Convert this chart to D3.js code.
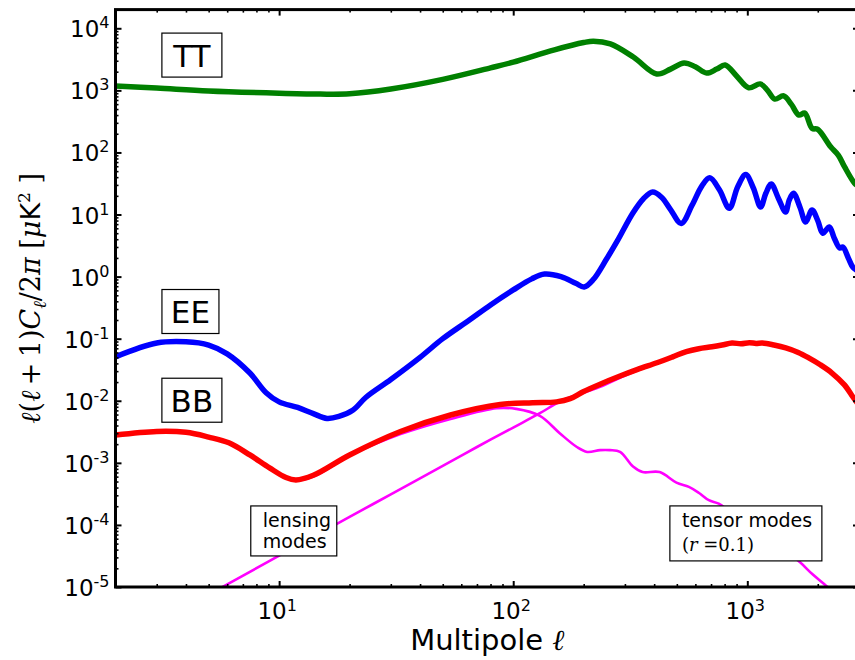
<!DOCTYPE html>
<html>
<head>
<meta charset="utf-8">
<script src="https://cdn.jsdelivr.net/npm/d3@7"></script>
<style>
body { margin: 0; background: #fff; }
svg { display: block; font-family: "DejaVu Sans", sans-serif; }
</style>
</head>
<body>
<svg id="chart"></svg>
<script>
// multipole values and band powers (uK^2)
const ttEll = [2, 3, 5, 10, 15, 20, 30, 50, 80, 100, 150, 200, 220, 260, 326, 410, 470, 537, 600, 670, 740, 804, 900, 1014, 1135, 1220, 1310, 1430, 1540, 1660, 1760, 1890, 2000, 2270, 2450, 2600, 2870, 3000];
const ttVal = [1175, 1090, 980, 900, 870, 880, 1050, 1500, 2300, 2850, 4500, 5900, 6200, 5600, 3440, 1840, 2200, 2770, 2400, 1900, 2200, 2570, 1700, 1100, 1270, 1000, 725, 815, 600, 400, 430, 245, 235, 123, 90, 59, 32, 28];

const eeEll = [2, 3, 4, 5, 6, 7.5, 8.8, 10, 12, 14, 16, 18, 20.7, 23.5, 30, 40, 50, 65, 80, 100, 120, 136, 160, 185, 201, 220, 250, 280, 324, 360, 394, 430, 470, 522, 580, 640, 691, 760, 838, 910, 985, 1060, 1140, 1200, 1265, 1360, 1457, 1510, 1575, 1680, 1775, 1890, 2000, 2100, 2240, 2350, 2480, 2560, 2700, 2830, 3000];
const eeVal = [0.051, 0.085, 0.089, 0.079, 0.057, 0.028, 0.0135, 0.0096, 0.0078, 0.0062, 0.0052, 0.0056, 0.0071, 0.0114, 0.022, 0.05, 0.1, 0.2, 0.35, 0.61, 0.92, 1.1, 1.0, 0.78, 0.68, 0.9, 1.9, 3.9, 10.5, 18, 23, 19, 12, 7.2, 14, 29, 39, 25, 12.6, 28, 44, 27, 13.2, 22, 31, 18, 11, 17, 22, 13, 7.6, 11.8, 8, 5, 6.3, 4.2, 2.9, 3.0, 2.0, 1.4, 1.2];

const bbEll = [2, 3, 4, 5, 6.1, 7.5, 9.1, 10.7, 11.8, 14, 20, 33, 54, 88, 121, 153, 175, 199, 235, 286, 340, 411, 480, 549, 620, 706, 780, 860, 940, 1020, 1090, 1160, 1300, 1460, 1650, 1830, 2050, 2300, 2600, 2840, 3000];
const bbVal = [0.0028, 0.0032, 0.0031, 0.0026, 0.0021, 0.00134, 0.00083, 0.00058, 0.00053, 0.00063, 0.00134, 0.0032, 0.0059, 0.0087, 0.0093, 0.0096, 0.0108, 0.014, 0.0185, 0.025, 0.032, 0.041, 0.051, 0.062, 0.069, 0.074, 0.079, 0.085, 0.083, 0.086, 0.084, 0.085, 0.079, 0.071, 0.060, 0.049, 0.038, 0.028, 0.018, 0.0112, 0.0085];

const tensorEll = [2, 3, 4, 5, 6.1, 7.5, 9.1, 10.7, 11.8, 14, 20, 33, 54, 85, 103, 130, 158, 187, 207, 235, 259, 286, 325, 357, 422, 498, 563, 620, 685, 755, 850, 1000, 1150, 1300, 1500, 1680, 1900, 2200, 2500];
const tensorVal = [0.0028, 0.0032, 0.0031, 0.0026, 0.0021, 0.00134, 0.00083, 0.00057, 0.00052, 0.0006, 0.0013, 0.0029, 0.0051, 0.0076, 0.0074, 0.0057, 0.0030, 0.0018, 0.0015, 0.0016, 0.0016, 0.0015, 0.00087, 0.00071, 0.00071, 0.00048, 0.00041, 0.00033, 0.00025, 0.00022, 0.00016, 0.00011, 7.5e-5, 5.2e-5, 3.5e-5, 2.5e-5, 1.6e-5, 1e-5, 6e-6];

const lensEll = [5, 6, 10, 20, 30, 50, 70, 100, 130, 160, 200, 235, 286, 340, 411, 480, 549, 620, 706, 780, 860, 940, 1020, 1090, 1160, 1300, 1460, 1650, 1830, 2050, 2300, 2600, 2840, 3000];
const lensVal = [7.6e-6, 1.1e-5, 3.2e-5, 1.35e-4, 3.1e-4, 8.9e-4, 1.8e-3, 3.7e-3, 6.3e-3, 9.9e-3, 0.0135, 0.0168, 0.0235, 0.031, 0.040, 0.050, 0.061, 0.068, 0.073, 0.078, 0.084, 0.082, 0.085, 0.083, 0.085, 0.079, 0.071, 0.060, 0.049, 0.038, 0.028, 0.018, 0.0112, 0.0085];

const xMajor = [10, 100, 1000];
const yMajor = [1e-5, 1e-4, 1e-3, 1e-2, 1e-1, 1, 10, 100, 1000, 1e4];
const yExp = ['-5', '-4', '-3', '-2', '-1', '0', '1', '2', '3', '4'];
const xExp = ['1', '2', '3'];

const width = 855;
const height = 660;
const padL = 115.5, padR = 859, padT = 9.6, padB = 587;

const svg = d3.select('#chart').attr('width', width).attr('height', height);

const x = d3.scaleLog().domain([2, 3000]).range([padL, padR]);
const y = d3.scaleLog().domain([1e-5, 2e4]).range([padB, padT]);

svg.append('defs').append('clipPath').attr('id', 'clip')
	.append('rect')
	.attr('x', padL).attr('y', padT)
	.attr('width', padR - padL).attr('height', padB - padT);

const zip = (a, b) => a.map((v, i) => [v, b[i]]);

const line = d3.line()
	.x((d) => x(d[0]))
	.y((d) => y(d[1]))
	.curve(d3.curveCatmullRom.alpha(0.5));

const series = [
	{ pts: zip(ttEll, ttVal), color: '#008000', w: 5.5 },
	{ pts: zip(eeEll, eeVal), color: '#0000ff', w: 5.5 },
	{ pts: zip(lensEll, lensVal), color: '#ff00ff', w: 2.6 },
	{ pts: zip(tensorEll, tensorVal), color: '#ff00ff', w: 2.6 },
	{ pts: zip(bbEll, bbVal), color: '#ff0000', w: 5.5 }
];

const plot = svg.append('g').attr('clip-path', 'url(#clip)');

plot.selectAll('path')
	.data(series)
	.enter()
	.append('path')
	.attr('d', (s) => line(s.pts))
	.attr('fill', 'none')
	.attr('stroke', (s) => s.color)
	.attr('stroke-width', (s) => s.w)
	.attr('stroke-linejoin', 'round')
	.attr('stroke-linecap', 'round');

// ticks, pointing inward on all four sides
const isMajor = (v) => Math.abs(Math.log10(v) - Math.round(Math.log10(v))) < 1e-9;
const xMinor = x.ticks().filter((v) => !isMajor(v));
const yMinor = y.ticks().filter((v) => !isMajor(v));

const addAxis = (axis, tx, ty, vals, size, sw) => {
	const g = svg.append('g')
		.attr('transform', `translate(${tx},${ty})`)
		.call(axis.tickValues(vals).tickSize(-size).tickSizeOuter(0).tickFormat(''));
	g.select('.domain').remove();
	g.selectAll('.tick line').attr('stroke', '#000').attr('stroke-width', sw);
};

addAxis(d3.axisBottom(x), 0, padB, xMajor, 6, 2);
addAxis(d3.axisBottom(x), 0, padB, xMinor, 3, 1.6);
addAxis(d3.axisTop(x), 0, padT, xMajor, 6, 2);
addAxis(d3.axisTop(x), 0, padT, xMinor, 3, 1.6);
addAxis(d3.axisLeft(y), padL, 0, yMajor, 6, 2);
addAxis(d3.axisLeft(y), padL, 0, yMinor, 3, 1.6);
addAxis(d3.axisRight(y), padR, 0, yMajor, 6, 2);
addAxis(d3.axisRight(y), padR, 0, yMinor, 3, 1.6);

svg.append('rect')
	.attr('x', padL).attr('y', padT)
	.attr('width', padR - padL).attr('height', padB - padT)
	.attr('fill', 'none')
	.attr('stroke', '#000')
	.attr('stroke-width', 3);

// tick labels 10^n
const yLab = svg.append('g').attr('font-size', 23).attr('fill', '#000');
yMajor.forEach((v, i) => {
	const t = yLab.append('text')
		.attr('x', padL - 6)
		.attr('y', y(v) + 9)
		.attr('text-anchor', 'end');
	t.append('tspan').text('10');
	t.append('tspan').attr('font-size', 16).attr('dy', -9).text(yExp[i]);
});

const xLab = svg.append('g').attr('font-size', 23).attr('fill', '#000');
xMajor.forEach((v, i) => {
	const t = xLab.append('text')
		.attr('x', x(v) - 2)
		.attr('y', 619)
		.attr('text-anchor', 'middle');
	t.append('tspan').text('10');
	t.append('tspan').attr('font-size', 16).attr('dy', -8).text(xExp[i]);
});

// axis titles
const xTitle = svg.append('text')
	.attr('x', (padL + padR) / 2)
	.attr('y', 650)
	.attr('text-anchor', 'middle')
	.attr('font-size', 29);
xTitle.append('tspan').text('Multipole ');
xTitle.append('tspan').attr('font-family', 'DejaVu Serif').attr('font-style', 'italic').text('ℓ');

const serif = 'DejaVu Serif';
const yTitle = svg.append('text')
	.attr('transform', `translate(40,${(padT + padB) / 2}) rotate(-90)`)
	.attr('text-anchor', 'middle')
	.attr('font-size', 27)
	.attr('font-family', serif);
const part = (txt, opts = {}) => {
	const s = yTitle.append('tspan').text(txt);
	Object.entries(opts).forEach(([k, v]) => s.attr(k, v));
	return s;
};
part('ℓ', { 'font-style': 'italic' });
part('(');
part('ℓ', { 'font-style': 'italic' });
part('\u2009+\u20091)');
part('C', { 'font-style': 'italic' });
part('ℓ', { 'font-style': 'italic', 'font-size': 18, dy: 6 });
part('/2', { dy: -6 });
part('π', { 'font-style': 'italic' });
part(' [');
part('μ', { 'font-style': 'italic' });
part('K', { 'font-family': 'DejaVu Sans' });
part('2', { 'font-size': 17, dy: -10 });
part(' ]', { dy: 10 });

// spectrum labels in boxes
const boxLabels = ['TT', 'EE', 'BB'];
const boxEll = [4.24, 4.18, 4.24];
const boxVal = [3700, 0.274, 0.0102];
const boxW = [60, 57, 60];

boxLabels.forEach((lab, i) => {
	const cx = x(boxEll[i]);
	const cy = y(boxVal[i]);
	svg.append('rect')
		.attr('x', cx - boxW[i] / 2).attr('y', cy - 22)
		.attr('width', boxW[i]).attr('height', 44)
		.attr('fill', '#fff').attr('stroke', '#000').attr('stroke-width', 1.2);
	svg.append('text')
		.attr('x', cx).attr('y', cy + 11.5)
		.attr('text-anchor', 'middle')
		.attr('font-size', 31)
		.text(lab);
});

// lensing note
const lensBox = { l: 11.55, v: 8e-5, w: 86, h: 50 };
const lx = x(lensBox.l) - lensBox.w / 2;
const ly = y(lensBox.v) - lensBox.h / 2;
svg.append('rect')
	.attr('x', lx).attr('y', ly)
	.attr('width', lensBox.w).attr('height', lensBox.h)
	.attr('fill', '#fff').attr('stroke', '#000').attr('stroke-width', 1.2);
svg.append('text').attr('x', lx + 12).attr('y', ly + 21).attr('font-size', 19).text('lensing');
svg.append('text').attr('x', lx + 12).attr('y', ly + 42).attr('font-size', 19).text('modes');

// tensor note
const tensBox = { l: 986, v: 7.3e-5, w: 152, h: 55 };
const bx = x(tensBox.l) - tensBox.w / 2;
const by = y(tensBox.v) - tensBox.h / 2;
svg.append('rect')
	.attr('x', bx).attr('y', by)
	.attr('width', tensBox.w).attr('height', tensBox.h)
	.attr('fill', '#fff').attr('stroke', '#000').attr('stroke-width', 1.2);
svg.append('text').attr('x', bx + 12).attr('y', by + 21).attr('font-size', 19).text('tensor modes');
const rt = svg.append('text').attr('x', bx + 12).attr('y', by + 45).attr('font-size', 18).attr('font-family', serif);
rt.append('tspan').text('(');
rt.append('tspan').attr('font-style', 'italic').text('r');
rt.append('tspan').text(' =0.1)');
</script>
</body>
</html>
